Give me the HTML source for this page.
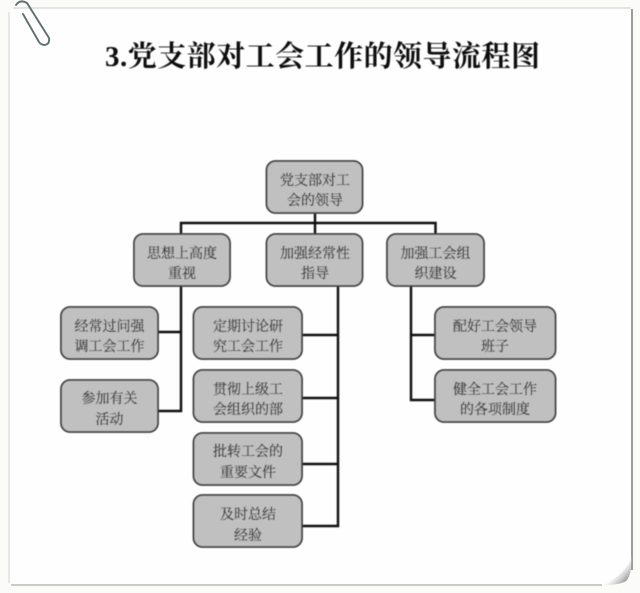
<!DOCTYPE html>
<html lang="zh"><head><meta charset="utf-8">
<style>
html,body{margin:0;padding:0;background:#fbfcfa}
svg{display:block}
.t{font-family:"Liberation Serif","Noto Serif CJK SC",serif;font-size:14px;fill:#333;stroke:#333;stroke-width:0.25;text-anchor:middle}
.title{font-family:"Liberation Serif","Noto Serif CJK SC",serif;font-size:29px;font-weight:bold;fill:#111}
.b{fill:#bfc0bf;stroke:#3c3c3c;stroke-width:1.8}
.l{stroke:#111;stroke-width:2.4;fill:none}
</style></head>
<body>
<svg width="640" height="593" viewBox="0 0 640 593" xmlns="http://www.w3.org/2000/svg">
<defs>
<linearGradient id="c" x1="0" y1="0" x2="1" y2="1"><stop offset="0.4" stop-color="#fff" stop-opacity="0"/><stop offset="1" stop-color="#333"/></linearGradient>
<filter id="s" x="-2%" y="-2%" width="104%" height="104%"><feGaussianBlur stdDeviation="0.4"/></filter>
</defs>
<rect width="640" height="593" fill="#fbfcfa"/>
<path d="M9 12Q9 8 13 8H632V572Q632 585 618 585H11Q9 585 9 583Z" fill="#fefefe"/>
<path d="M13 8H631" stroke="#dcdddb" stroke-width="1.6" fill="none"/>
<path d="M9 12V583" stroke="#e2e3e1" stroke-width="1.6" fill="none"/>
<path d="M632 9V570" stroke="#9c9d9c" stroke-width="2" fill="none"/>
<path d="M11 585H602" stroke="#c2c3c2" stroke-width="1.8" fill="none"/>
<path d="M604 585Q620 585 626 581Q632 575 632 556Q626 574 604 585Z" fill="url(#c)"/>
<g fill="none" stroke="#5f7070" stroke-width="1.9" stroke-linecap="round">
<path d="M16 5Q20 -1 27 3L49 38Q50 44 45 45Q41 45 39 42L23 14"/>
</g>
<g filter="url(#s)">
<text class="title" x="105" y="66" textLength="435" lengthAdjust="spacing">3.党支部对工会工作的领导流程图</text>
<g class="l">
<path class="l" d="M315 213V234M181 234V223H435.5V234"/>
<path class="l" d="M181 286V411H158M158 332H181"/>
<path class="l" d="M338 286V526H302M302 335H338M302 398H338M302 464H338"/>
<path class="l" d="M411 286V400H435M411 335H435"/>
</g>
<rect class="b" x="266.500" y="161" width="96" height="52" rx="9"/>
<rect class="b" x="134" y="234" width="96" height="52" rx="9"/>
<rect class="b" x="266.500" y="234" width="96" height="52" rx="9"/>
<rect class="b" x="387" y="234" width="97" height="52" rx="9"/>
<rect class="b" x="61" y="307" width="97" height="52" rx="9"/>
<rect class="b" x="61" y="380" width="97" height="52" rx="9"/>
<rect class="b" x="193.500" y="307" width="108.500" height="52" rx="9"/>
<rect class="b" x="193.500" y="370" width="108.500" height="52" rx="9"/>
<rect class="b" x="193.500" y="433" width="108.500" height="52" rx="9"/>
<rect class="b" x="193.500" y="495" width="108.500" height="52" rx="9"/>
<rect class="b" x="435" y="307" width="120.500" height="52" rx="9"/>
<rect class="b" x="435" y="370" width="120.500" height="52" rx="9"/>
<text class="t" x="315" y="185">党支部对工</text><text class="t" x="315" y="205">会的领导</text>
<text class="t" x="182" y="258">思想上高度</text><text class="t" x="182" y="278">重视</text>
<text class="t" x="315" y="258">加强经常性</text><text class="t" x="315" y="278">指导</text>
<text class="t" x="435.500" y="258">加强工会组</text><text class="t" x="435.500" y="278">织建设</text>
<text class="t" x="109.500" y="331">经常过问强</text><text class="t" x="109.500" y="351">调工会工作</text>
<text class="t" x="109.500" y="403">参加有关</text><text class="t" x="109.500" y="424">活动</text>
<text class="t" x="248" y="331">定期讨论研</text><text class="t" x="248" y="351">究工会工作</text>
<text class="t" x="248" y="394">贯彻上级工</text><text class="t" x="248" y="414">会组织的部</text>
<text class="t" x="248" y="456">批转工会的</text><text class="t" x="248" y="477">重要文件</text>
<text class="t" x="248" y="519">及时总结</text><text class="t" x="248" y="540">经验</text>
<text class="t" x="495" y="331">配好工会领导</text><text class="t" x="495" y="351">班子</text>
<text class="t" x="495" y="394">健全工会工作</text><text class="t" x="495" y="414">的各项制度</text>
</g>
</svg>
</body></html>
